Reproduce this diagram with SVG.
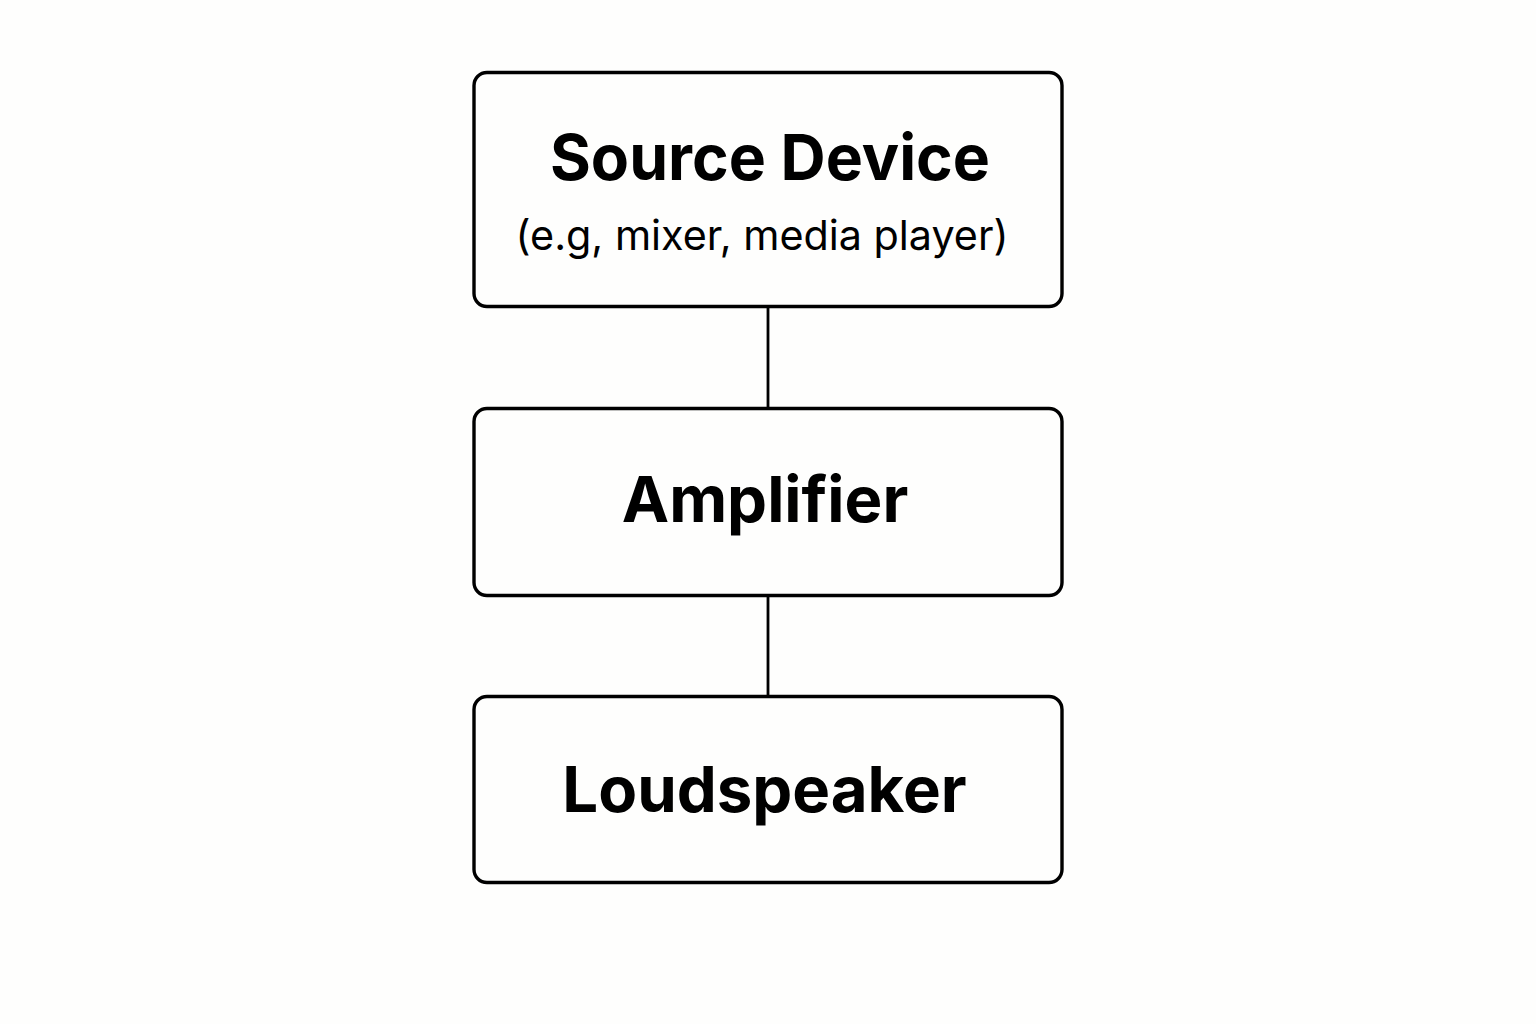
<svg xmlns="http://www.w3.org/2000/svg" width="1536" height="1024" viewBox="0 0 1536 1024">
<style>
.box{fill:#fefefd;stroke:#000;stroke-width:3.4}
.title{font-family:Inter,"Liberation Sans",sans-serif;font-weight:700;font-size:63.5px;fill:#000;text-anchor:middle}
.sub{font-family:Inter,"Liberation Sans",sans-serif;font-weight:400;font-size:41.3px;fill:#000;text-anchor:middle}
.conn{stroke:#000;stroke-width:2.8;fill:none}
</style>
<rect width="1536" height="1024" fill="#fefefd"/>
<g id="connectors">
<line class="conn" x1="768" y1="307" x2="768" y2="408"/>
<line class="conn" x1="768" y1="596" x2="768" y2="696"/>
</g>
<g id="source">
<rect class="box" x="474" y="72.5" width="588" height="234" rx="13"/>
<text class="title" x="770" y="180" textLength="440" lengthAdjust="spacingAndGlyphs">Source Device</text>
<text class="sub" x="762" y="250">(e.g, mixer, media player)</text>
</g>
<g id="amplifier">
<rect class="box" x="474" y="408.5" width="588" height="187" rx="13"/>
<text class="title" x="765" y="522">Amplifier</text>
</g>
<g id="loudspeaker">
<rect class="box" x="474" y="696.5" width="588" height="186" rx="13"/>
<text class="title" x="764.5" y="812">Loudspeaker</text>
</g>
</svg>
